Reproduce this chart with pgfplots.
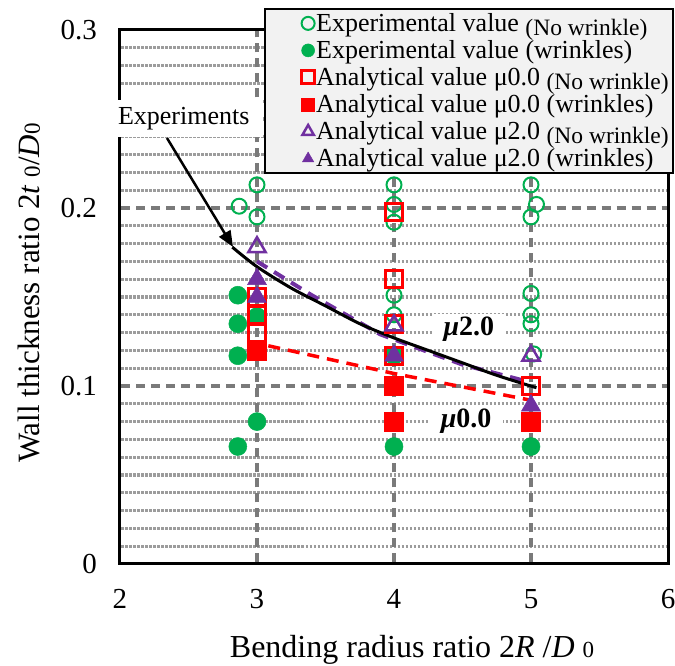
\documentclass[border=0pt]{standalone}
\usepackage{fontspec}
\setmainfont{Liberation Serif}
\usepackage{pgfplots}
\pgfplotsset{compat=1.18}
\usetikzlibrary{arrows.meta}
\definecolor{egreen}{HTML}{00B050}
\definecolor{epurple}{HTML}{7030A0}
\definecolor{gridd}{HTML}{7A7A7A}
\definecolor{gridm}{HTML}{9C9C9C}
\definecolor{legfill}{HTML}{F2F2F2}
\pgfplotsset{lgimg/.style={legend image code/.code={\path[draw=none,fill=none] (0pt,-1pt) rectangle (50.5pt,1pt);\draw[mark repeat=2,mark phase=2,##1,only marks] plot coordinates {(0pt,0pt) (40pt,0pt) (50pt,0pt)};}}}
\newcommand{\nw}{\raisebox{-4pt}[0pt][0pt]{\fontsize{23.5}{24}\selectfont (No wrinkle)}}
\newcommand{\lgback}{\hspace*{-3.5pt}}
\begin{document}
\begin{tikzpicture}
\useasboundingbox (-120pt,-102pt) rectangle (555pt,564pt);
\begin{axis}[
  at={(0pt,0pt)}, anchor=south west,
  width=548pt, height=534pt, scale only axis,
  xmin=2, xmax=6, ymin=0, ymax=0.3,
  xtick={2,3,4,5,6}, ytick={0,0.1,0.2,0.3},
  major tick length=7pt,
  tick align=inside,
  tick pos=left,
  tick style={black, line width=3pt},
  axis line style={black, line width=3pt},
  ticklabel style={font=\fontsize{29}{29}\selectfont},
  /pgf/number format/assume math mode=true,
  xticklabel style={anchor=center, inner sep=0pt, yshift=-35pt},
  yticklabel style={anchor=east, inner sep=0pt, xshift=-23pt},
  clip=false,
  xlabel={Bending radius ratio 2\textit{R} /\textit{D} {\fontsize{23}{23}\selectfont 0}},
  xlabel style={at={(axis description cs:0.533,-0.176)}, anchor=base, font=\fontsize{32}{32}\selectfont, inner sep=0pt},
  ylabel={Wall thickness ratio 2\textit{t} {\fontsize{23}{23}\selectfont 0}/\textit{D}{\fontsize{23}{23}\selectfont 0}},
  ylabel style={at={(axis description cs:-0.146,0.5075)}, anchor=base, rotate=0, font=\fontsize{31}{31}\selectfont, inner sep=0pt},
  legend style={at={(axis description cs:0.263,1.041)}, anchor=north west, draw=black, line width=2pt, fill=legfill,
    font=\fontsize{26}{28}\selectfont, inner ysep=3.5pt, row sep=5.5pt, nodes={inner sep=1pt}},
  legend cell align=left,
  legend image post style={mark size=6.5pt},
]
% grid lines
\pgfplotsinvokeforeach{0.01,0.02,0.03,0.04,0.05,0.06,0.07,0.08,0.09,0.11,0.12,0.13,0.14,0.15,0.16,0.17,0.18,0.19,0.21,0.22,0.23,0.24,0.25,0.26,0.27,0.28,0.29}{
  \draw[gridm, line width=3.3pt, dash pattern=on 2.5pt off 1.5pt, shorten <=1.5pt, shorten >=1.5pt] (axis cs:2,#1) -- (axis cs:6,#1);
}
\pgfplotsinvokeforeach{0.1,0.2}{
  \draw[gridd, line width=3.3pt, dash pattern=on 9pt off 6pt, shorten <=1.5pt, shorten >=1.5pt] (axis cs:2,#1) -- (axis cs:6,#1);
}
\pgfplotsinvokeforeach{3,4,5}{
  \draw[gridd, line width=3.3pt, dash pattern=on 9pt off 6pt, shorten <=1.5pt, shorten >=1.5pt] (axis cs:#1,0) -- (axis cs:#1,0.3);
}
% boundary lines (under markers)
\addplot[forget plot, red, line width=3.5pt, dash pattern=on 12pt off 8pt] coordinates {(2.94,0.125) (4.0,0.107) (5.0,0.092)};
\addplot[forget plot, epurple, line width=4pt, dash pattern=on 12pt off 8pt] coordinates {(3.0,0.170) (3.4,0.151) (3.9,0.129) (4.5,0.112) (4.95,0.103)};

\addplot[only marks, lgimg, mark=o, mark size=7.5pt, color=egreen, line width=2pt] coordinates {
(3,0.213) (2.87,0.201) (3,0.195)
(4,0.213) (4,0.202) (4,0.192) (4,0.151) (4,0.140)
(5,0.213) (5.04,0.202) (5,0.195) (5,0.152) (5,0.140) (5,0.135) (5.02,0.118)};
\addlegendentry{\lgback Experimental value \nw}
\addplot[only marks, lgimg, mark=*, mark size=9pt, color=egreen, line width=0.5pt] coordinates {
(2.86,0.151) (2.86,0.135) (2.86,0.117) (3,0.139) (3,0.080) (2.86,0.066)
(4,0.117) (4,0.066) (5,0.066)};
\addlegendentry{\lgback Experimental value (wrinkles)}
\addplot[only marks, lgimg, mark=square, mark size=8.5pt, color=red, line width=3pt] coordinates {
(3,0.150) (3,0.140) (3,0.130) (4,0.198) (4,0.160) (4,0.135) (4,0.117) (5,0.100)};
\addlegendentry{\lgback Analytical value μ0.0 \nw}
\addplot[only marks, lgimg, mark=square*, mark size=9.5pt, color=red, line width=0.5pt] coordinates {
(3,0.120) (4,0.100) (4,0.080) (5,0.080)};
\addlegendentry{\lgback Analytical value μ0.0 (wrinkles)}
\addplot[only marks, lgimg, mark=triangle, mark size=10pt, color=epurple, line width=2.5pt] coordinates {
(3,0.178) (4,0.134) (5,0.117)};
\addlegendentry{\lgback Analytical value μ2.0 \nw}
\addplot[only marks, lgimg, mark=triangle*, mark size=11pt, color=epurple, line width=0.5pt] coordinates {
(3,0.160) (3,0.150) (4,0.117) (5,0.089)};
\addlegendentry{\lgback Analytical value μ2.0 (wrinkles)}

% experiments boundary curve
\addplot[forget plot, black, line width=3pt, smooth] coordinates {
(2.82,0.178) (3.0,0.167) (3.25,0.155) (3.5,0.145) (3.75,0.135) (4.0,0.127)
(4.25,0.120) (4.5,0.113) (4.75,0.106) (5.04,0.099)};

\node[fill=white, inner xsep=12pt, inner ysep=3pt, font=\fontsize{28}{28}\selectfont\bfseries] at (axis cs:4.547,0.132) {{\itshape μ}2.0};
\node[fill=white, inner xsep=12pt, inner ysep=2pt, font=\fontsize{28}{28}\selectfont\bfseries] at (axis cs:4.526,0.0803) {{\itshape μ}0.0};
\node[fill=white, inner sep=0pt, minimum width=148pt, minimum height=37pt, text width=142pt, align=left, font=\fontsize{26}{26}\selectfont] at (axis cs:2.504,0.2503) {Experiments};
\draw[black, line width=2.5pt, -{Triangle[length=16pt,width=13pt]}] (axis cs:2.343,0.2393) -- (axis cs:2.825,0.1781);
\end{axis}
\end{tikzpicture}
\end{document}
